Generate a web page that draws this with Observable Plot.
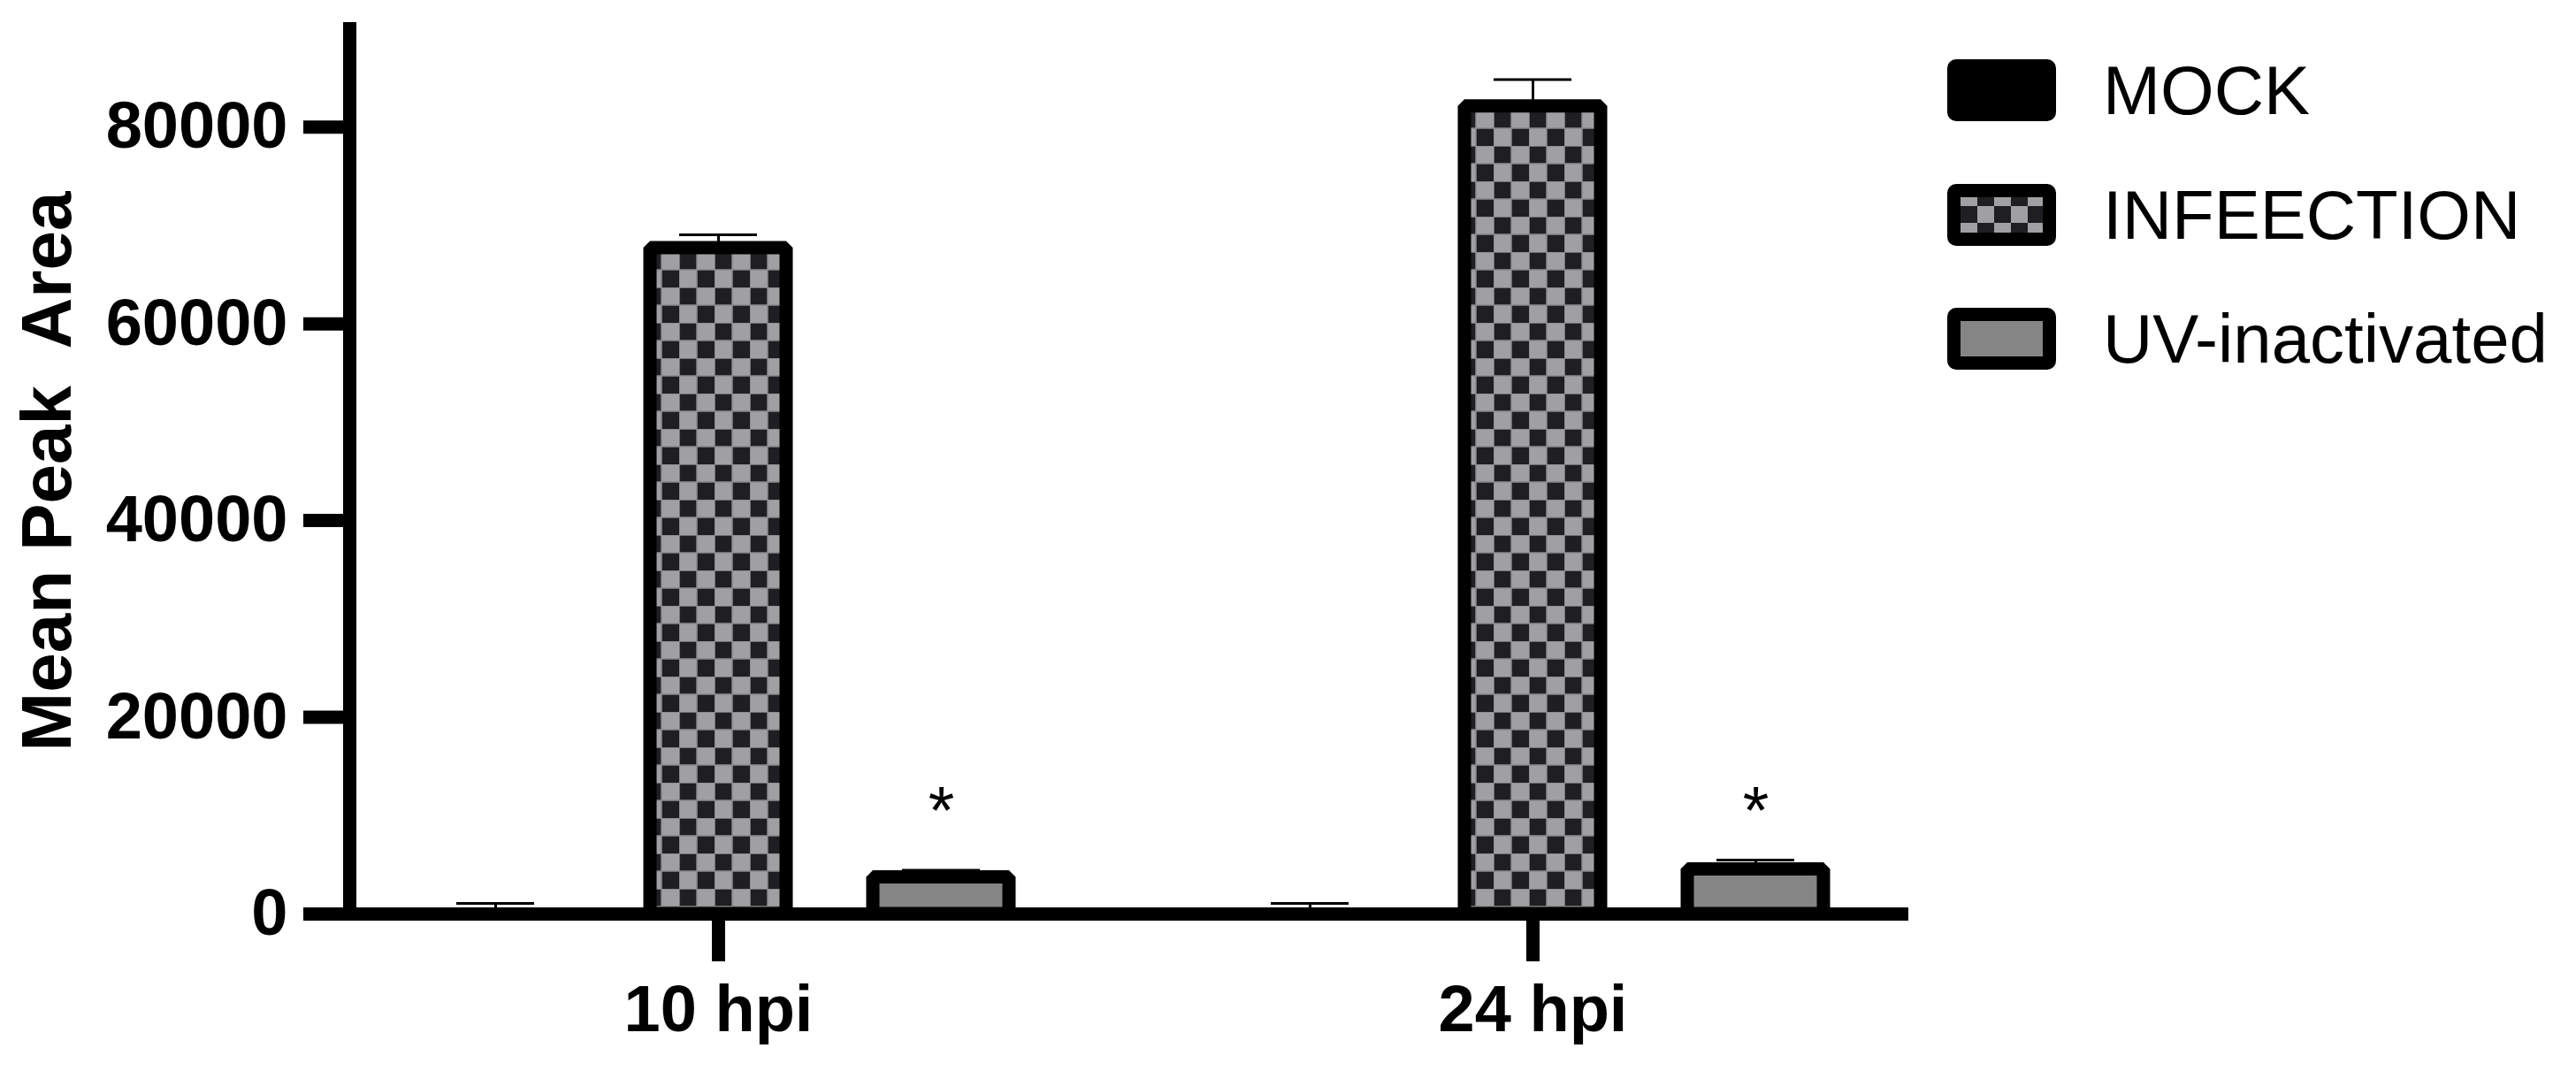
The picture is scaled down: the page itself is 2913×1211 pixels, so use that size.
<!DOCTYPE html>
<html><head><meta charset="utf-8">
<script src="https://cdn.jsdelivr.net/npm/d3@7"></script>
<script src="https://cdn.jsdelivr.net/npm/@observablehq/plot@0.6"></script>
<style>
html,body{margin:0;padding:0;background:#fff;}
#wrap{position:relative;width:2913px;height:1211px;overflow:hidden;}
svg text{white-space:pre;}
#legend{position:absolute;left:2202px;top:67px;font-family:"Liberation Sans",Arial,sans-serif;}
.row{display:flex;align-items:center;height:70px;margin-bottom:70.5px;}
.sw{width:123px;height:70px;box-sizing:border-box;border:15px solid #000;border-radius:10px;}
.lab{margin-left:53px;font-size:78px;line-height:1;color:#000;white-space:nowrap;}
</style></head>
<body><div id="wrap"><div id="chart"></div><div id="legend"></div></div>
<script>
// ---- data ----
const times = ["10 hpi", "24 hpi"];
const groups = ["MOCK", "INFEECTION", "UV-inactivated"];
const mean10 = [0, 67700, 3730];
const mean24 = [0, 82100, 4540];
const err10 = [1080, 1340, 720];
const err24 = [1080, 2740, 940];
const sig10 = ["", "", "*"];
const sig24 = ["", "", "*"];
const sigLevel = 10400;
const yTicks = [0, 20000, 40000, 60000, 80000];
const yLabel = "Mean Peak  Area";
const fills = ["#000000", "url(#checker)", "#858585"];
const legendBg = ["#000000", "checker", "#858585"];

const means = [mean10, mean24], errs = [err10, err24], sigs = [sig10, sig24];
const data = times.flatMap((t, ti) => groups.map((g, gi) => ({
  time: t, group: g, value: means[ti][gi], err: errs[ti][gi], top: means[ti][gi] + errs[ti][gi], sig: sigs[ti][gi]
})));
const stars = data.filter(d => d.sig).map(d => ({...d, sy: sigLevel}));

const font = "'Liberation Sans', Arial, sans-serif";
const chart = Plot.plot({
  width: 2913, height: 1211,
  marginLeft: 395, marginRight: 763, marginTop: 32, marginBottom: 178,
  style: {fontFamily: font, background: "white", color: "black", overflow: "visible"},
  fx: {domain: times, paddingInner: 0.0945, paddingOuter: 0, label: null},
  x: {domain: groups, paddingInner: 0.389, paddingOuter: 0.349, axis: null},
  y: {domain: [0, 90000]},
  color: {domain: groups, range: fills},
  marks: [
    Plot.ruleX(data, {fx: "time", x: "group", y1: "value", y2: "top", stroke: "black", strokeWidth: 3}),
    Plot.tickY(data, {fx: "time", x: "group", y: "top", stroke: "black", strokeWidth: 3, insetLeft: 33, insetRight: 33}),
    Plot.barY(data.filter(d => d.value > 0), {fx: "time", x: "group", y: "value", fill: "group", stroke: "black", strokeWidth: 15, strokeLinejoin: "bevel"}),
    Plot.text(stars, {fx: "time", x: "group", y: "sy", text: "sig", fontSize: 76, fill: "black"}),
    Plot.frame({anchor: "left", facet: "super", stroke: "black", strokeWidth: 15}),
    Plot.frame({anchor: "bottom", facet: "super", stroke: "black", strokeWidth: 15}),
    Plot.axisY({ticks: yTicks, tickFormat: d3.format("d"), tickSize: 52, tickPadding: 18, strokeWidth: 15,
      fontSize: 74, fontWeight: "bold", label: yLabel, labelAnchor: "center", labelArrow: "none", labelOffset: 372}),
    Plot.axisFx({anchor: "bottom", tickSize: 54, tickPadding: 26, strokeWidth: 15, fontSize: 74, fontWeight: "bold", label: null})
  ]
});

// checker pattern definition
const svg = d3.select(chart.tagName.toLowerCase() === "svg" ? chart : chart.querySelector("svg"));
const defs = svg.insert("defs", ":first-child");
const pat = defs.append("pattern").attr("id", "checker").attr("patternUnits", "userSpaceOnUse")
  .attr("width", 40).attr("height", 40).attr("x", 8).attr("y", 5);
pat.append("rect").attr("width", 40).attr("height", 40).attr("fill", "#a0a0a3");
pat.append("rect").attr("x", 0).attr("y", 0).attr("width", 20).attr("height", 20).attr("fill", "#1f1f23");
pat.append("rect").attr("x", 20).attr("y", 20).attr("width", 20).attr("height", 20).attr("fill", "#1f1f23");
pat.append("path").attr("d", "M0,0H40M0,20H40M0,0V40M20,0V40").attr("stroke", "#8a8a8d").attr("stroke-width", 1.5);
svg.select('[aria-label="y-axis label"]').attr("font-size", 80);

document.getElementById("chart").appendChild(chart);

// legend
const leg = d3.select("#legend");
groups.forEach((g, i) => {
  const row = leg.append("div").attr("class", "row");
  const sw = row.append("div").attr("class", "sw");
  if (legendBg[i] === "checker") {
    sw.style("background-color", "#a0a0a3")
      .style("background-image", "conic-gradient(#1f1f23 25%, transparent 0 50%, #1f1f23 0 75%, transparent 0)")
      .style("background-size", "38px 38px").style("background-position", "0 -9px");
  } else sw.style("background", legendBg[i]);
  row.append("div").attr("class", "lab").text(g);
});
</script></body></html>
